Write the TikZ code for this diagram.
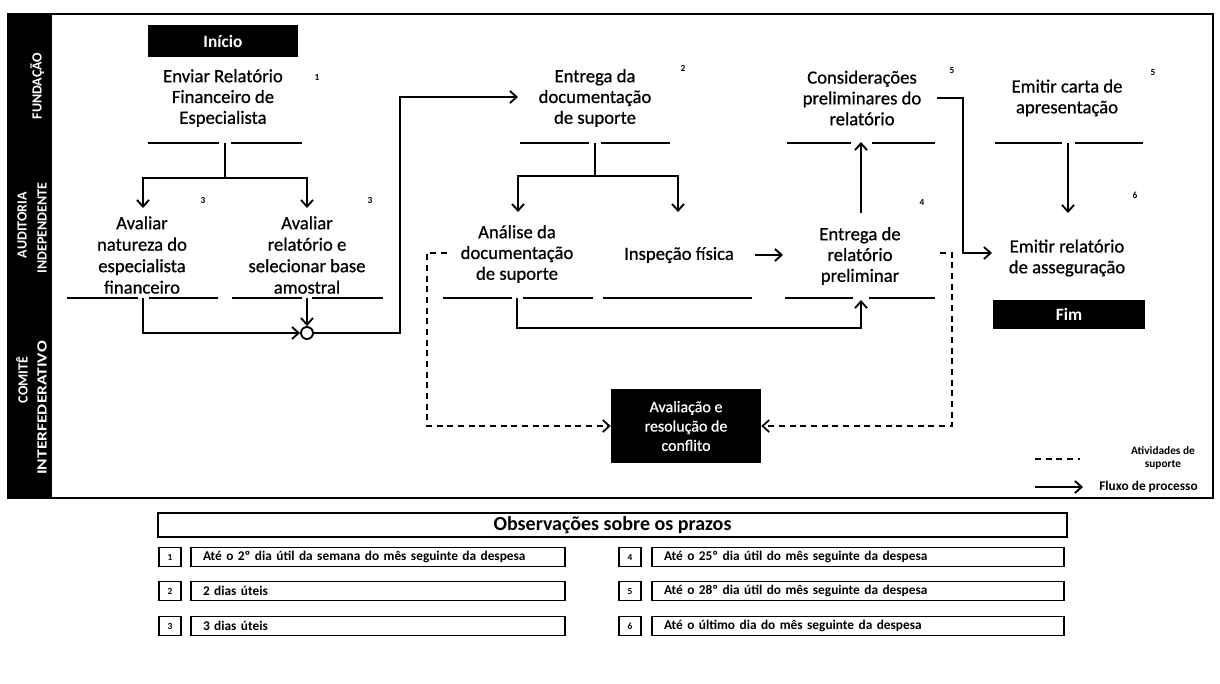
\documentclass[tikz,border=0pt]{standalone}
\usepackage{fontspec}
\setmainfont{Carlito}
\newfontfamily\lblfont{Carlito}[FakeBold=0.7]
\usetikzlibrary{arrows.meta}
\begin{document}
\begin{tikzpicture}[x=0.75pt,y=-0.75pt,
  lbl/.style={align=center,font=\lblfont\fontsize{14}{15.6}\selectfont,inner sep=0pt},
  supn/.style={font=\bfseries\fontsize{7}{8}\selectfont,inner sep=0pt},
  uline/.style={line width=1.2pt},
  flow/.style={line width=1.4pt,-{Straight Barb[length=5pt,width=9pt]}},
  support/.style={line width=1.3pt,dash pattern=on 4.5pt off 3.5pt,-{Straight Barb[length=5pt,width=9pt]}},
  blackbox/.style={fill=black,text=white,inner sep=0pt,align=center},
  lane/.style={text=white,rotate=90,align=center,font=\bfseries\fontsize{10.5}{15}\selectfont,inner sep=0pt},
  numbox/.style={draw,line width=1.1pt,minimum width=16.5pt,minimum height=14.25pt,font=\bfseries\fontsize{7}{8}\selectfont,inner sep=0pt},
  rowbox/.style={draw,line width=1.1pt,minimum height=14.25pt,font=\bfseries\fontsize{10}{12}\selectfont,inner xsep=9pt,inner ysep=0pt,align=left}
]
\useasboundingbox (0,0) rectangle (1220,683);

% frame and lanes
\fill[black] (8,14) rectangle (52,498);
\draw[line width=2.2pt] (8,14) rectangle (1213,498);
\node[lane] (l1) at (37,86) {FUNDAÇÃO};
\node[lane] (l2a) at (22,225) {AUDITORIA};
\node[lane] (l2b) at (42,228) {INDEPENDENTE};
\node[lane] (l3a) at (22,380) {COMITÊ};
\node[lane] (l3b) at (42,408) {\scalebox{1.25}[1]{INTERFEDERATIVO}};

% start
\node[blackbox,minimum width=112.5pt,minimum height=24pt,font=\bfseries\fontsize{13}{15}\selectfont] (ini) at (223,41) {Início};

% Fundação nodes
\node[lbl] (n1) at (223,98) {Enviar Relatório\\Financeiro de\\Especialista};
\node[supn] (s1) at (317,77) {1};
\draw[uline] (148,143) -- (219,143) (231,143) -- (302,143);
\coordinate (n1b) at (225,143);

\node[lbl] (n4) at (595,98) {Entrega da\\documentação\\de suporte};
\node[supn] (s2) at (683,68) {2};
\draw[uline] (520,143) -- (589,143) (601,143) -- (670,143);
\coordinate (n4b) at (595,143);
\coordinate (n4in) at (518,97);

\node[lbl] (n8) at (862,98) {Considerações\\preliminares do\\relatório};
\node[supn] (s5a) at (952,70) {5};
\draw[uline] (787,143) -- (851,143) (872,143) -- (935,143);
\coordinate (n8b) at (861,142);
\coordinate (n8r) at (937,98);

\node[lbl] (n9) at (1067,98) {Emitir carta de\\apresentação};
\node[supn] (s5b) at (1153,72) {5};
\draw[uline] (995,143) -- (1062,143) (1075,143) -- (1143,143);
\coordinate (n9b) at (1068,143);

% Auditoria nodes
\node[lbl,font=\lblfont\fontsize{14}{16.1}\selectfont] (n2) at (142,255) {Avaliar\\natureza do\\especialista\\financeiro};
\node[supn] (s3a) at (203,200) {3};
\draw[uline] (67,298) -- (138,298) (149,298) -- (218,298);
\coordinate (n2b) at (143,298);
\coordinate (n2t) at (143,208);

\node[lbl,font=\lblfont\fontsize{14}{16.1}\selectfont] (n3) at (307,255) {Avaliar\\relatório e\\selecionar base\\amostral};
\node[supn] (s3b) at (370,200) {3};
\draw[uline] (232,298) -- (302,298) (312,298) -- (383,298);
\coordinate (n3b) at (307,298);
\coordinate (n3t) at (307,208);

\node[draw,circle,fill=white,line width=1.4pt,minimum size=9pt,inner sep=0pt] (mc) at (307,333) {};

\node[lbl] (n5) at (517,254) {Análise da\\documentação\\de suporte};
\draw[uline] (443,298) -- (512,298) (523,298) -- (593,298);
\coordinate (n5b) at (517,298);
\coordinate (n5t) at (518,212);
\coordinate (n5l) at (447,253);

\node[lbl] (n6) at (679,255) {Inspeção física};
\draw[uline] (603,298) -- (752,298);
\coordinate (n6t) at (678,212);
\coordinate (n6r) at (755,255);

\node[lbl] (n7) at (860,256) {Entrega de\\relatório\\preliminar};
\node[supn] (s4) at (922,202) {4};
\draw[uline] (785,298) -- (853,298) (869,298) -- (935,298);
\coordinate (n7l) at (783,255);
\coordinate (n7b) at (861,300);
\coordinate (n7t) at (861,213);
\coordinate (n7r) at (940,253);

\node[lbl] (n10) at (1067,258) {Emitir relatório\\de asseguração};
\node[supn] (s6) at (1135,195) {6};
\coordinate (n10l) at (992,253);
\coordinate (n10t) at (1068,213);

\node[blackbox,minimum width=114pt,minimum height=21.75pt,font=\bfseries\fontsize{13}{15}\selectfont] (fim) at (1069,314) {Fim};

% Comitê
\node[blackbox,minimum width=112.5pt,minimum height=55.5pt,font=\lblfont\fontsize{12}{14.5}\selectfont] (conf) at (686,426) {Avaliação e\\resolução de\\conflito};

% connectors
\draw[flow] (n1b) -- ++(0,35) -| (n2t);
\draw[flow] (n1b) -- ++(0,35) -| (n3t);
\draw[flow] (n2b) |- (mc.west);
\draw[flow] (n3b) -- (mc.north);
\draw[flow] (mc.east) -| ([xshift=-88.5pt]n4in) -- (n4in);
\draw[flow] (n4b) -- ++(0,33) -| (n5t);
\draw[flow] (n4b) -- ++(0,33) -| (n6t);
\draw[flow] (n6r) -- (n7l);
\draw[flow] (n5b) -- ++(0,30) -| (n7b);
\draw[flow] (n7t) -- (n8b);
\draw[flow] (n8r) -- ++(26,0) |- (n10l);
\draw[flow] (n9b) -- (n10t);
\draw[support] (n5l) -- ++(-20,0) |- (conf.west);
\draw[support] (n7r) -- ++(12,0) |- (conf.east);

% legend
\coordinate (lg1a) at (1035,459);
\coordinate (lg1b) at (1080,459);
\draw[line width=1.3pt,dash pattern=on 4.5pt off 3.5pt] (lg1a) -- (lg1b);
\node[align=center,font=\bfseries\fontsize{8.5}{9.5}\selectfont,inner sep=0pt] (lgt1) at (1163,458) {Atividades de\\suporte};
\coordinate (lg2a) at (1035,487);
\coordinate (lg2b) at (1083,487);
\draw[flow] (lg2a) -- (lg2b);
\node[font=\bfseries\fontsize{10}{11}\selectfont,inner sep=0pt,anchor=west] (lgt2) at (1099,487) {Fluxo de processo};

% table
\node[draw,line width=1.1pt,minimum width=681.75pt,minimum height=18pt,inner sep=0pt,font=\bfseries\fontsize{15}{16}\selectfont] (hdr) at (612.5,525) {Observações sobre os prazos};

\node[numbox] (k1) at (170,557) {1};
\node[numbox] (k2) at (170,591) {2};
\node[numbox] (k3) at (170,626) {3};
\node[numbox] (k4) at (630,557) {4};
\node[numbox] (k5) at (630,591) {5};
\node[numbox] (k6) at (630,626) {6};

\node[rowbox,text width=262.5pt] (t1) at (378,557) {Até o 2º dia útil da semana do mês seguinte da despesa};
\node[rowbox,text width=262.5pt] (t2) at (378,591) {2 dias úteis};
\node[rowbox,text width=262.5pt] (t3) at (378,626) {3 dias úteis};
\node[rowbox,text width=291pt] (t4) at (858,557) {Até o 25º dia útil do mês seguinte da despesa};
\node[rowbox,text width=291pt] (t5) at (858,591) {Até o 28º dia útil do mês seguinte da despesa};
\node[rowbox,text width=291pt] (t6) at (858,626) {Até o último dia do mês seguinte da despesa};
\end{tikzpicture}
\end{document}
